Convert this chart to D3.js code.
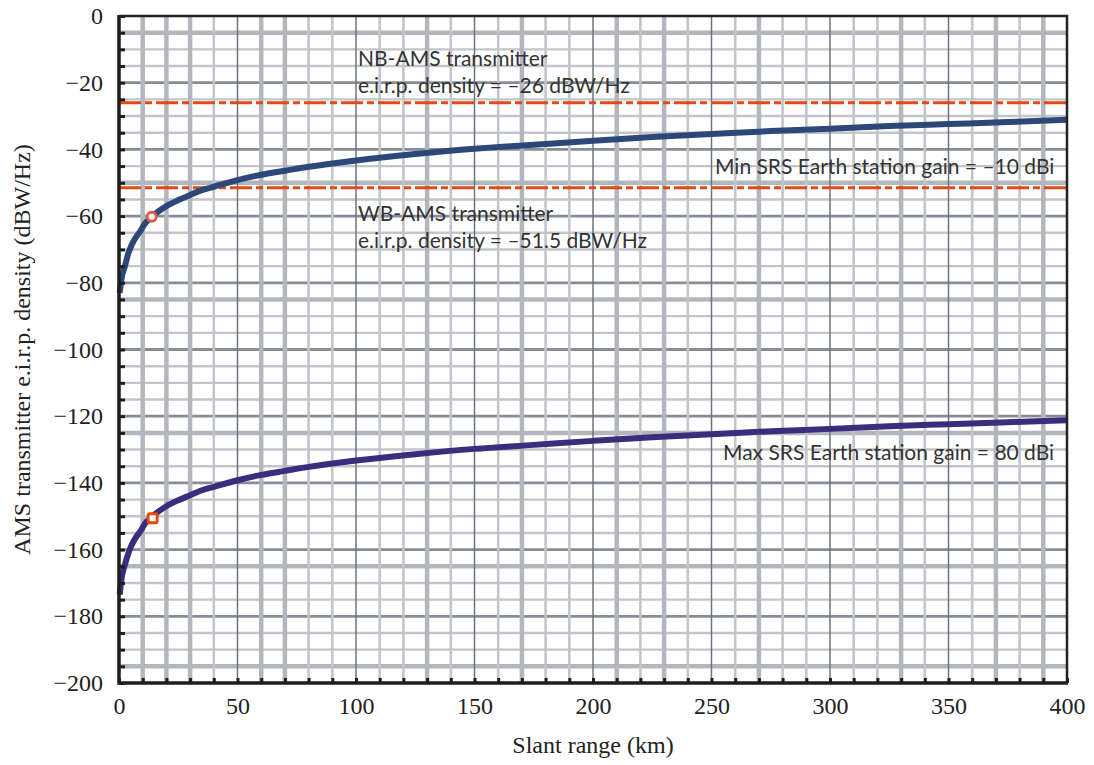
<!DOCTYPE html>
<html>
<head>
<meta charset="utf-8">
<title>AMS transmitter e.i.r.p. density vs slant range</title>
<script src="https://cdn.jsdelivr.net/npm/d3@7"></script>
<style>
    body{ margin:0; background:#fff; }
    svg{ display:block; }
    .note{ font-family:Lato,"Open Sans",sans-serif; font-size:21px; fill:#333; }
    .title{ font-family:"Liberation Serif","Times New Roman",serif; font-size:24px; fill:#222; }
</style>
</head>
<body>
<svg width="1094" height="765"></svg>
<script>
// slant range (km)
var upperRange = [0.3, 1, 2.5, 4, 5.3, 7, 9, 11, 13.8, 17, 20, 25, 30, 35, 40, 50, 60, 70, 80, 90, 100, 125, 150, 175, 200, 225, 250, 275, 300, 325, 350, 375, 400];
// min SRS earth station gain = -10 dBi curve
var upperDensity = [-83, -79, -75, -71, -68.7, -66.5, -64.5, -62.2, -60.2, -58.4, -57, -55.2, -53.7, -52.2, -51.2, -49.2, -47.6, -46.4, -45.2, -44.2, -43.3, -41.4, -39.8, -38.6, -37.4, -36.3, -35.4, -34.5, -33.8, -33, -32.4, -31.8, -31.1];
var lowerRange = [0.3, 1, 2.5, 4, 5.3, 7, 9, 11, 13.8, 17, 20, 25, 30, 35, 40, 50, 60, 70, 80, 90, 100, 125, 150, 175, 200, 225, 250, 275, 300, 325, 350, 375, 400];
// max SRS earth station gain = 80 dBi curve
var lowerDensity = [-173.5, -169, -164.5, -161, -158.7, -156.5, -154.5, -152.2, -150.2, -148.4, -147, -145.2, -143.7, -142.2, -141.2, -139.2, -137.6, -136.4, -135.2, -134.2, -133.3, -131.4, -129.8, -128.6, -127.4, -126.3, -125.4, -124.5, -123.8, -123, -122.4, -121.8, -121.2];
// marked points
var markRange = [13.8, 14.2];
var markDensity = [-60.2, -150.6];
// threshold lines (dBW/Hz)
var limitValues = [-26, -51.5];
var xTickLabels = [0, 50, 100, 150, 200, 250, 300, 350, 400];
var yTickLabels = [0, -20, -40, -60, -80, -100, -120, -140, -160, -180, -200];

var svg = d3.select("svg");
var pLeft = 119, pRight = 1067, pTop = 16, pBottom = 683;

var x = d3.scaleLinear().domain([0, 400]).range([pLeft, pRight]);
var y = d3.scaleLinear().domain([-200, 0]).range([pBottom, pTop]);

// grid: some lines heavier, like the scanned original
var heavyX = [10, 20, 30, 60, 70, 130, 170, 210, 230, 270, 330, 370, 390];
var heavyY = [-5, -50, -85, -125, -165, -195];

var grid = svg.append("g");
d3.range(5, 200, 5).forEach(function(v){
    var val = -v;
    var major = v % 20 === 0;
    var heavy = heavyY.indexOf(val) >= 0;
    grid.append("line")
        .attr("x1", pLeft).attr("x2", pRight)
        .attr("y1", y(val)).attr("y2", y(val))
        .attr("stroke", major ? "#868d96" : (heavy ? "#b3b7bd" : "#c2c5ca"))
        .attr("stroke-width", major ? 2.8 : (heavy ? 4.5 : 2.4));
});
d3.range(10, 400, 10).forEach(function(v){
    var major = v % 50 === 0;
    var heavy = heavyX.indexOf(v) >= 0;
    grid.append("line")
        .attr("x1", x(v)).attr("x2", x(v))
        .attr("y1", pTop).attr("y2", pBottom)
        .attr("stroke", major ? "#6b7480" : (heavy ? "#b3b7bd" : "#c2c5ca"))
        .attr("stroke-width", major ? 1.5 : (heavy ? 4.5 : 2.6));
});

// dashed threshold lines
svg.selectAll("line.limit")
    .data(limitValues)
    .enter()
    .append("line")
    .attr("class", "limit")
    .attr("x1", pLeft).attr("x2", pRight)
    .attr("y1", function(d){ return y(d); })
    .attr("y2", function(d){ return y(d); })
    .attr("stroke", "#e04a14")
    .attr("stroke-width", 3)
    .attr("stroke-dasharray", "22,4,7,4");

// curves
var line = d3.line()
    .x(function(d){ return x(d[0]); })
    .y(function(d){ return y(d[1]); })
    .curve(d3.curveMonotoneX);

svg.append("path")
    .datum(d3.zip(upperRange, upperDensity))
    .attr("d", line)
    .attr("fill", "none")
    .attr("stroke", "#2c4879")
    .attr("stroke-width", 6);

svg.append("path")
    .datum(d3.zip(lowerRange, lowerDensity))
    .attr("d", line)
    .attr("fill", "none")
    .attr("stroke", "#3a2d7b")
    .attr("stroke-width", 6);

// markers
svg.append("circle")
    .attr("cx", x(markRange[0])).attr("cy", y(markDensity[0]))
    .attr("r", 4.5)
    .attr("fill", "#fff")
    .attr("stroke", "#de5a44")
    .attr("stroke-width", 2.8);
svg.append("rect")
    .attr("x", x(markRange[1]) - 4.5).attr("y", y(markDensity[1]) - 4.5)
    .attr("width", 9).attr("height", 9)
    .attr("rx", 1.5)
    .attr("fill", "#fff")
    .attr("stroke", "#e8470f")
    .attr("stroke-width", 2.8);

// axes
var yAxis = d3.axisLeft(y)
    .tickValues(d3.range(-200, 1, 5))
    .tickSizeInner(-6).tickSizeOuter(0)
    .tickPadding(16)
    .tickFormat(function(d){ return yTickLabels.indexOf(d) >= 0 ? (d < 0 ? "\u2212" + (-d) : d) : ""; });
var gy = svg.append("g").attr("transform", "translate(" + pLeft + ",0)").call(yAxis);
gy.select(".domain").remove();
gy.attr("font-family", "'Liberation Serif', 'Times New Roman', serif").attr("font-size", 24);
gy.selectAll(".tick text").attr("fill", "#222");
gy.selectAll(".tick line").attr("stroke", "#1e1e1e").attr("stroke-width", 3);

var xAxis = d3.axisBottom(x)
    .tickValues(d3.range(0, 401, 10))
    .tickSizeInner(-5).tickSizeOuter(0)
    .tickPadding(14)
    .tickFormat(function(d){ return xTickLabels.indexOf(d) >= 0 ? d : ""; });
var gx = svg.append("g").attr("transform", "translate(0," + pBottom + ")").call(xAxis);
gx.select(".domain").remove();
gx.attr("font-family", "'Liberation Serif', 'Times New Roman', serif").attr("font-size", 24);
gx.selectAll(".tick text").attr("fill", "#222");
gx.selectAll(".tick line").attr("stroke", "#1e1e1e").attr("stroke-width", 3);

// frame
svg.append("path")
    .attr("d", "M" + pLeft + "," + pTop + "H" + pRight + "V" + pBottom)
    .attr("fill", "none").attr("stroke", "#222").attr("stroke-width", 2.5);
svg.append("path")
    .attr("d", "M" + pLeft + "," + (pTop - 1) + "V" + pBottom + "H" + (pRight + 1))
    .attr("fill", "none").attr("stroke", "#1e1e1e").attr("stroke-width", 3.5);

// annotations
var notes = [
    ["NB-AMS transmitter", 358, 66],
    ["e.i.r.p. density = \u201326 dBW/Hz", 358, 93],
    ["Min SRS Earth station gain = \u201310 dBi", 715, 174],
    ["WB-AMS transmitter", 358, 221],
    ["e.i.r.p. density = \u201351.5 dBW/Hz", 358, 248],
    ["Max SRS Earth station gain = 80 dBi", 723, 460]
];
svg.selectAll("text.note")
    .data(notes)
    .enter()
    .append("text")
    .attr("class", "note")
    .attr("x", function(d){ return d[1]; })
    .attr("y", function(d){ return d[2]; })
    .text(function(d){ return d[0]; });

// axis titles
svg.append("text")
    .attr("class", "title")
    .attr("x", (pLeft + pRight) / 2)
    .attr("y", 753)
    .attr("text-anchor", "middle")
    .text("Slant range (km)");
svg.append("text")
    .attr("class", "title")
    .attr("transform", "translate(30," + ((pTop + pBottom) / 2) + ") rotate(-90)")
    .attr("text-anchor", "middle")
    .text("AMS transmitter e.i.r.p. density (dBW/Hz)");
</script>
</body>
</html>
